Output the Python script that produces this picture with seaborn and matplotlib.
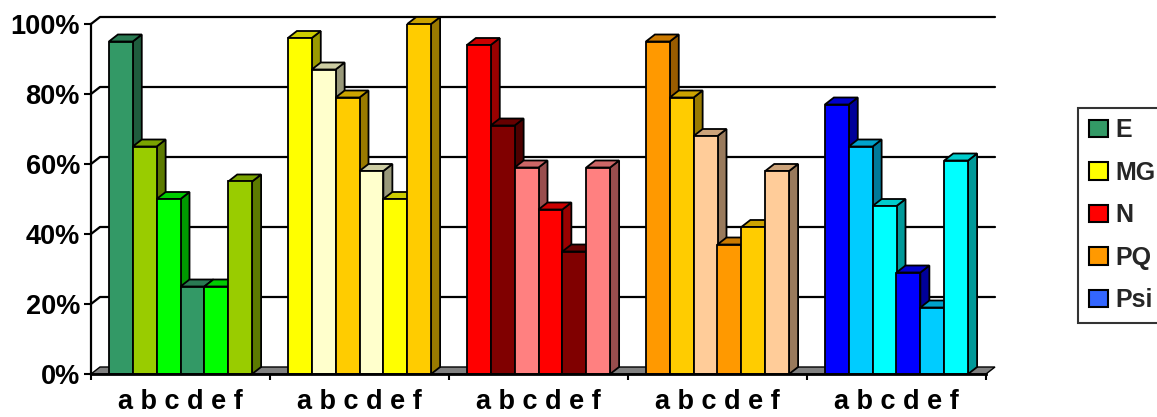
import numpy as np
import pandas as pd
import matplotlib
matplotlib.use("Agg")
import matplotlib.pyplot as plt
from matplotlib.patches import Polygon, Patch
from matplotlib.lines import Line2D
from matplotlib.colors import to_rgb
from matplotlib.ticker import FixedLocator, PercentFormatter
import seaborn as sns

# ---- data -------------------------------------------------------------
groups = ["E", "MG", "N", "PQ", "Psi"]
subs = ["a", "b", "c", "d", "e", "f"]

e_vals = [95, 65, 50, 25, 25, 55]
mg_vals = [96, 87, 79, 58, 50, 100]
n_vals = [94, 71, 59, 47, 35, 59]
pq_vals = [95, 79, 68, 37, 42, 58]
psi_vals = [77, 65, 48, 29, 19, 61]

e_colors = ["#339966", "#99CC00", "#00FF00", "#339966", "#00FF00", "#99CC00"]
mg_colors = ["#FFFF00", "#FFFFCC", "#FFCC00", "#FFFFCC", "#FFFF00", "#FFCC00"]
n_colors = ["#FF0000", "#800000", "#FF8080", "#FF0000", "#800000", "#FF8080"]
pq_colors = ["#FF9900", "#FFCC00", "#FFCC99", "#FF9900", "#FFCC00", "#FFCC99"]
psi_colors = ["#0000FF", "#00CCFF", "#00FFFF", "#0000FF", "#00CCFF", "#00FFFF"]

legend_colors = ["#339966", "#FFFF00", "#FF0000", "#FF9900", "#3366FF"]

values = {"E": e_vals, "MG": mg_vals, "N": n_vals, "PQ": pq_vals, "Psi": psi_vals}
colors = {"E": e_colors, "MG": mg_colors, "N": n_colors, "PQ": pq_colors, "Psi": psi_colors}

df = pd.DataFrame(
    [(g, s, v / 100.0) for g in groups for s, v in zip(subs, values[g])],
    columns=["group", "sub", "value"],
)

# ---- style ------------------------------------------------------------
sns.set_theme(style="white")
plt.rcParams["font.family"] = ["Liberation Sans", "DejaVu Sans"]
plt.rcParams["font.weight"] = "bold"

W, H = 1157, 417
fig = plt.figure(figsize=(W / 100, H / 100), dpi=100)
ax = fig.add_axes([91 / W, 43 / H, 895 / W, 350 / H])

EDGE_LW = 1.3
sns.barplot(
    data=df, x="group", y="value", hue="sub",
    order=groups, hue_order=subs, width=0.8, dodge=True,
    errorbar=None, legend=False, saturation=1,
    edgecolor="black", linewidth=EDGE_LW, ax=ax,
)
ax.set_xlim(-0.5, len(groups) - 0.5)
ax.set_ylim(0, 1)
ax.set_xlabel("")
ax.set_ylabel("")

# depth of the 3-D effect, in pixels, converted to data units
DX_PX, DY_PX = 9.0, 7.0
bbox = ax.get_window_extent()
x0, x1 = ax.get_xlim()
ddx = DX_PX * (x1 - x0) / bbox.width
ddy = DY_PX * 1.0 / bbox.height


def shade(c, f):
    r, g, b = to_rgb(c)
    return (r * f, g * f, b * f)


# back-wall gridlines with the diagonal run from the front axis
yticks = [0.0, 0.2, 0.4, 0.6, 0.8, 1.0]
for y in yticks[1:]:
    ax.add_line(Line2D([x0, x0 + ddx, x1 + ddx], [y, y + ddy, y + ddy],
                       color="black", lw=1.6, zorder=1, clip_on=False))

# floor
ax.add_patch(Polygon([(x0, 0), (x1, 0), (x1 + ddx, ddy), (x0 + ddx, ddy)],
                     closed=True, facecolor="#808080", edgecolor="black",
                     lw=1.0, zorder=1.5, clip_on=False))

# colour each bar and add its top and side faces
bars = []
step = 0.8 / len(subs)
for p in ax.patches:
    if not hasattr(p, "get_width") or p.get_height() <= 0 or p.get_width() > 0.5:
        continue
    cx = p.get_x() + p.get_width() / 2
    gi = int(round(cx))
    hi = int(round((cx - gi + 0.4 - step / 2) / step))
    bars.append((p.get_x(), p, colors[groups[gi]][hi]))

bars.sort(key=lambda t: t[0])
for i, (_, p, col) in enumerate(bars):
    bx0 = p.get_x()
    bx1 = bx0 + p.get_width()
    h = p.get_height()
    z = 2 + i * 0.01
    side = Polygon([(bx1, 0), (bx1, h), (bx1 + ddx, h + ddy), (bx1 + ddx, ddy)],
                   closed=True, facecolor=shade(col, 0.6), edgecolor="black",
                   lw=EDGE_LW, zorder=z, clip_on=False)
    top = Polygon([(bx0, h), (bx1, h), (bx1 + ddx, h + ddy), (bx0 + ddx, h + ddy)],
                  closed=True, facecolor=shade(col, 0.8), edgecolor="black",
                  lw=EDGE_LW, zorder=z + 0.002, clip_on=False)
    ax.add_patch(side)
    ax.add_patch(top)
    p.set_facecolor(col)
    p.set_edgecolor("black")
    p.set_linewidth(EDGE_LW)
    p.set_zorder(z + 0.005)

# axes, ticks and labels
for s in ["top", "right"]:
    ax.spines[s].set_visible(False)
ax.spines["left"].set_color("black")
ax.spines["left"].set_linewidth(1.6)
ax.spines["bottom"].set_color("black")
ax.spines["bottom"].set_linewidth(2.0)
ax.spines["bottom"].set_zorder(5)

ax.yaxis.set_major_locator(FixedLocator(yticks))
ax.yaxis.set_major_formatter(PercentFormatter(1.0, decimals=0))
ax.tick_params(axis="y", left=True, length=5, width=1.5, pad=3.0,
               labelsize=19.5, colors="black", direction="out")

ax.set_xticks(range(len(groups)))
ax.set_xticklabels([" ".join(subs)] * len(groups))
ax.set_xticks(np.arange(-0.5, len(groups), 1.0), minor=True)
ax.tick_params(axis="x", which="major", length=0, pad=11.0, labelsize=19.5,
               colors="black")
ax.tick_params(axis="x", which="minor", bottom=True, length=4.5, width=1.5,
               direction="out", color="black")
for lab in ax.get_xticklabels() + ax.get_yticklabels():
    lab.set_fontweight("bold")

# legend
handles = [Patch(facecolor=c, edgecolor="black", linewidth=1.5) for c in legend_colors]
leg = fig.legend(handles, groups, loc="upper left",
                 bbox_to_anchor=(1078 / W, 1 - 107.7 / H),
                 bbox_transform=fig.transFigure,
                 prop={"size": 18, "weight": "bold"},
                 frameon=True, fancybox=False, shadow=False,
                 borderpad=0.42, handlelength=0.76, handleheight=0.72,
                 handletextpad=0.32, labelspacing=0.74, borderaxespad=0)
leg.get_frame().set_edgecolor("black")
leg.get_frame().set_linewidth(1.5)
leg.get_frame().set_facecolor("white")

fig.savefig("out.png", dpi=100)
